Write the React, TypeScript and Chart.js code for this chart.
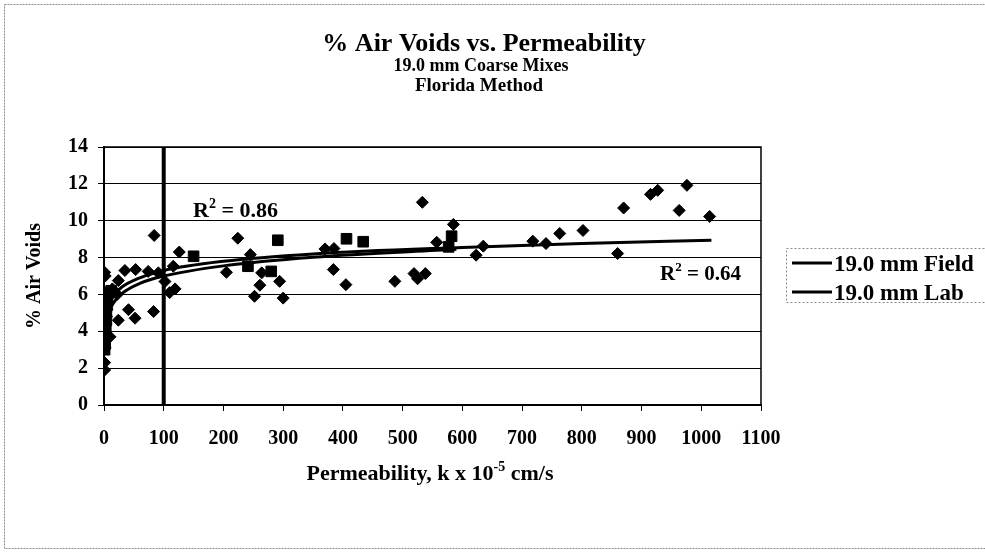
import React, { useEffect, useRef } from "react";
import { Chart, registerables } from "chart.js";

Chart.register(...registerables);

// ---- Data ----
// 19.0 mm Field specimens (diamonds)
const fieldX = [1, 1, 2, 3, 10, 2, 3, 4, 5, 6, 8, 1, 2, 14, 22,
  84, 126, 35, 53, 24, 74, 91, 116, 102, 119, 110, 41, 52, 24, 83,
  224, 245, 205, 264, 294, 261, 252, 300,
  533, 585, 370, 385, 557, 384, 405, 487, 519, 525, 538,
  635, 623, 718, 740, 763, 802, 860, 870, 915, 927, 976, 963, 1014];
const fieldY = [1.9, 2.3, 3.1, 3.5, 3.7, 4.0, 4.4, 4.8, 5.2, 5.5, 5.9, 7.2, 7.0, 6.3, 6.0,
  9.2, 8.3, 7.3, 7.35, 6.75, 7.25, 7.17, 7.53, 6.7, 6.3, 6.1, 5.17, 4.71, 4.6, 5.07,
  9.05, 8.16, 7.2, 7.17, 6.71, 6.5, 5.9, 5.8,
  11.0, 9.8, 8.47, 8.49, 8.83, 7.35, 6.53, 6.71, 7.13, 6.85, 7.13,
  8.62, 8.13, 8.89, 8.76, 9.31, 9.47, 8.22, 10.69, 11.43, 11.65, 11.92, 10.56, 10.23];

// 19.0 mm Lab specimens (squares)
const labX = [1, 2, 2, 3, 4, 4, 5, 6, 8, 12, 150, 241, 280, 291, 406, 434, 577, 582];
const labY = [3.0, 3.3, 3.8, 4.2, 4.6, 5.0, 5.4, 5.7, 6.1, 6.2, 8.07, 7.53, 7.25, 8.94, 9.02, 8.86, 8.58, 9.16];

// Trend lines
const fieldTrendX = [1, 2, 4, 8, 15, 30, 60, 100, 200, 350, 600, 800, 1017];
const fieldTrendY = [3.9, 4.4, 4.9, 5.45, 5.9, 6.4, 6.9, 7.3, 7.8, 8.2, 8.55, 8.76, 8.94];
const labTrendX = [1, 2, 4, 8, 15, 30, 60, 100, 200, 350, 590];
const labTrendY = [3.2, 3.8, 4.4, 5.0, 5.5, 6.05, 6.6, 7.0, 7.55, 8.02, 8.45];

const seriesNames = ["19.0 mm Field", "19.0 mm Lab"];
const r2Values = ["0.86", "0.64"];
const titleText = "% Air Voids vs. Permeability";
const subtitleLines = ["19.0 mm Coarse Mixes", "Florida Method"];
const yTitle = "% Air Voids";
const xTitleParts = ["Permeability, k x 10", "-5", " cm/s"];
const referenceK = 100;
const xMin = 0, xMax = 1100, xStep = 100;
const yMin = 0, yMax = 14, yStep = 2;

const FONT = '"Liberation Serif", "Times New Roman", Times, serif';

function toPts(xs: number[], ys: number[]) {
  return xs.map((x, i) => ({ x, y: ys[i] }));
}

function drawWithSup(ctx: CanvasRenderingContext2D, parts: { t: string; sup?: boolean }[], x: number, y: number, size: number, align: "left" | "center") {
  const main = `bold ${size}px ${FONT}`;
  const small = `bold ${Math.round(size * 0.62)}px ${FONT}`;
  let total = 0;
  for (const p of parts) { ctx.font = p.sup ? small : main; total += ctx.measureText(p.t).width; }
  let cx = align === "center" ? x - total / 2 : x;
  ctx.textAlign = "left";
  ctx.textBaseline = "alphabetic";
  for (const p of parts) {
    ctx.font = p.sup ? small : main;
    ctx.fillText(p.t, cx, p.sup ? y - size * 0.4 : y);
    cx += ctx.measureText(p.t).width;
  }
}

const decorPlugin = {
  id: "decor",
  beforeDatasetsDraw(chart: any) {
    const ctx = chart.ctx as CanvasRenderingContext2D;
    const { left, right, top, bottom } = chart.chartArea;
    const xs = chart.scales.x;
    ctx.save();
    ctx.strokeStyle = "#000";
    ctx.lineWidth = 1.5;
    ctx.beginPath();
    ctx.moveTo(left, top);
    ctx.lineTo(right, top);
    ctx.lineTo(right, bottom);
    ctx.stroke();
    // reference line at k = 100
    const px = xs.getPixelForValue(referenceK);
    ctx.lineWidth = 4;
    ctx.beginPath();
    ctx.moveTo(px, top);
    ctx.lineTo(px, bottom);
    ctx.stroke();
    ctx.restore();
  },
  afterDraw(chart: any) {
    const ctx = chart.ctx as CanvasRenderingContext2D;
    const { top, bottom } = chart.chartArea;
    const xs = chart.scales.x, ys = chart.scales.y;
    ctx.save();
    ctx.fillStyle = "#000";
    // outer frame
    ctx.strokeStyle = "#8a8a8a";
    ctx.lineWidth = 1;
    ctx.setLineDash([2, 1]);
    ctx.strokeRect(4.5, 4.5, 1000, 544);
    ctx.setLineDash([]);
    // titles
    ctx.textAlign = "center";
    ctx.textBaseline = "alphabetic";
    ctx.font = `bold 26px ${FONT}`;
    ctx.fillText(titleText, 484, 51);
    ctx.font = `bold 18px ${FONT}`;
    ctx.fillText(subtitleLines[0], 481, 71);
    ctx.font = `bold 19px ${FONT}`;
    ctx.fillText(subtitleLines[1], 479, 91);
    // y title
    ctx.save();
    ctx.translate(40, (top + bottom) / 2);
    ctx.rotate(-Math.PI / 2);
    ctx.font = `bold 20px ${FONT}`;
    ctx.textAlign = "center";
    ctx.fillText(yTitle, 0, 0);
    ctx.restore();
    // x title
    drawWithSup(ctx, [{ t: xTitleParts[0] }, { t: xTitleParts[1], sup: true }, { t: xTitleParts[2] }], 430, 480, 22, "center");
    // R^2 labels
    drawWithSup(ctx, [{ t: "R" }, { t: "2", sup: true }, { t: " = " + r2Values[0] }], xs.getPixelForValue(149), ys.getPixelForValue(10.2), 22, "left");
    drawWithSup(ctx, [{ t: "R" }, { t: "2", sup: true }, { t: " = " + r2Values[1] }], xs.getPixelForValue(931), ys.getPixelForValue(6.8), 21, "left");
    // legend
    ctx.strokeStyle = "#8a8a8a";
    ctx.lineWidth = 1;
    ctx.setLineDash([2, 2]);
    ctx.strokeRect(786.5, 248.5, 220, 54);
    ctx.setLineDash([]);
    ctx.strokeStyle = "#000";
    ctx.lineWidth = 3;
    const rows = [263, 292];
    seriesNames.forEach((name, i) => {
      ctx.beginPath();
      ctx.moveTo(792, rows[i]);
      ctx.lineTo(832, rows[i]);
      ctx.stroke();
      ctx.font = `bold 23px ${FONT}`;
      ctx.textAlign = "left";
      ctx.fillText(name, 834, rows[i] + 8);
    });
    ctx.restore();
  },
};

export default function App() {
  const ref = useRef<HTMLCanvasElement | null>(null);
  useEffect(() => {
    document.body.style.margin = "0";
    if (!ref.current) return;
    const tickFont = { family: FONT, size: 20, weight: "bold" as const };
    const chart = new Chart(ref.current, {
      type: "scatter",
      data: {
        datasets: [
          {
            label: seriesNames[0] + " trend",
            data: toPts(fieldTrendX, fieldTrendY),
            showLine: true,
            borderColor: "#000",
            borderWidth: 3,
            pointRadius: 0,
            cubicInterpolationMode: "monotone",
            order: 0,
          } as any,
          {
            label: seriesNames[1] + " trend",
            data: toPts(labTrendX, labTrendY),
            showLine: true,
            borderColor: "#000",
            borderWidth: 3,
            pointRadius: 0,
            cubicInterpolationMode: "monotone",
            order: 0,
          } as any,
          {
            label: seriesNames[0],
            data: toPts(fieldX, fieldY),
            pointStyle: "rectRot",
            pointRadius: 6,
            backgroundColor: "#000",
            borderColor: "#000",
            borderWidth: 1,
            order: 1,
          },
          {
            label: seriesNames[1],
            data: toPts(labX, labY),
            pointStyle: "rect",
            pointRadius: 7.5,
            backgroundColor: "#000",
            borderColor: "#000",
            borderWidth: 1,
            order: 1,
          },
        ],
      },
      options: {
        responsive: false,
        animation: false,
        devicePixelRatio: 1,
        layout: { padding: { top: 147, right: 224, left: 0, bottom: 0 } },
        plugins: { legend: { display: false }, tooltip: { enabled: false }, title: { display: false } },
        scales: {
          x: {
            type: "linear",
            min: xMin,
            max: xMax,
            ticks: { stepSize: xStep, font: tickFont, color: "#000", padding: 16, maxRotation: 0, autoSkip: false, callback: (v: any) => String(v) },
            grid: { drawOnChartArea: false, drawTicks: true, tickLength: 6, color: "#000", lineWidth: 1 },
            border: { color: "#000", width: 2 },
            afterFit: (s: any) => { s.height = 147; },
          },
          y: {
            min: yMin,
            max: yMax,
            ticks: { stepSize: yStep, font: tickFont, color: "#000", padding: 10, callback: (v: any) => String(v) },
            grid: { color: "#000", lineWidth: 1, tickLength: 6 },
            border: { color: "#000", width: 2 },
            afterFit: (s: any) => { s.width = 104; },
          },
        },
      },
      plugins: [decorPlugin],
    });
    return () => chart.destroy();
  }, []);
  return (
    <div style={{ width: 985, height: 552, background: "#fff" }}>
      <canvas ref={ref} width={985} height={552} />
    </div>
  );
}
